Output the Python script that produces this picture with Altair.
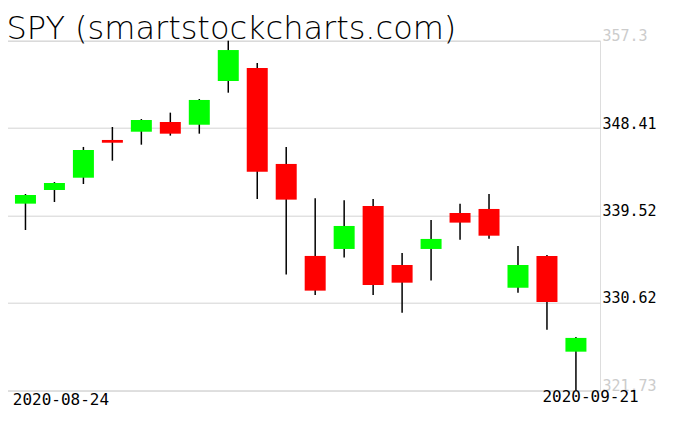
import altair as alt
import pandas as pd

TITLE = "SPY (smartstockcharts.com)"

dates = ["2020-08-24", "2020-08-25", "2020-08-26", "2020-08-27", "2020-08-28",
         "2020-08-31", "2020-09-01", "2020-09-02", "2020-09-03", "2020-09-04",
         "2020-09-08", "2020-09-09", "2020-09-10", "2020-09-11", "2020-09-14",
         "2020-09-15", "2020-09-16", "2020-09-17", "2020-09-18", "2020-09-21"]
opens = [340.72, 342.11, 343.36, 347.20, 348.04, 349.03, 348.75, 353.20, 354.52, 344.76,
         335.40, 336.11, 340.48, 334.48, 336.11, 339.77, 340.18, 332.17, 335.40, 325.66]
highs = [341.70, 342.92, 346.49, 348.52, 349.33, 349.98, 351.37, 357.30, 355.03, 346.49,
         341.27, 341.06, 341.20, 335.70, 339.06, 340.72, 341.70, 336.42, 335.50, 327.16]
lows = [338.04, 340.89, 342.72, 345.09, 346.72, 347.64, 347.84, 352.01, 341.20, 333.50,
        331.43, 335.23, 331.43, 329.63, 332.89, 337.06, 337.16, 331.66, 327.90, 321.73]
closes = [341.60, 342.82, 346.18, 346.92, 349.23, 347.84, 351.27, 356.35, 343.97, 341.13,
          331.87, 338.45, 332.45, 332.68, 337.13, 338.79, 337.46, 334.48, 330.72, 327.06]
y_ticks = [321.73, 330.62, 339.52, 348.41, 357.3]

df = pd.DataFrame({
    "idx": list(range(len(dates))),
    "date": dates,
    "open": opens,
    "high": highs,
    "low": lows,
    "close": closes,
})

W, H = 593.5, 349.6
ymin, ymax = min(lows), max(highs)

xs = alt.Scale(domain=[-0.482, len(dates) - 1 + 0.658], nice=False, zero=False)
ys = alt.Scale(domain=[ymin, ymax], nice=False, zero=False)

y_axis = alt.Axis(
    orient="right", values=y_ticks, format=".2~f", title=None,
    domain=False, ticks=False, grid=True, gridColor="#d3d3d3", gridWidth=1,
    labelPadding=2, labelFont="DejaVu Sans Mono", labelFontSize=15,
    labelBaseline="alphabetic", labelOverlap=False, labelFlush=False, labelBound=False,
    labelColor={"condition": {"test": "datum.value > 357 || datum.value < 322",
                              "value": "#cccccc"}, "value": "black"},
)

base = alt.Chart(df)

wicks = base.mark_rule(color="black", strokeWidth=1.5).encode(
    x=alt.X("idx:Q", scale=xs, axis=None),
    y=alt.Y("low:Q", scale=ys, axis=y_axis),
    y2="high:Q",
)

bodies = base.mark_bar(size=21).encode(
    x=alt.X("idx:Q", scale=xs, axis=None),
    y=alt.Y("open:Q", scale=ys, axis=y_axis),
    y2="close:Q",
    color=alt.condition("datum.close >= datum.open", alt.value("#00ff00"), alt.value("#ff0000")),
)

first_lbl = alt.Chart(pd.DataFrame({"idx": [0], "label": [dates[0]]})).mark_text(
    align="left", baseline="alphabetic", dx=-12.7, dy=14.7,
    font="DejaVu Sans Mono", fontSize=16, color="black",
).encode(x=alt.X("idx:Q", scale=xs, axis=None), y=alt.value(H), text="label:N")

last_lbl = alt.Chart(pd.DataFrame({"idx": [len(dates) - 1], "label": [dates[-1]]})).mark_text(
    align="right", baseline="alphabetic", dx=62.7, dy=11.4,
    font="DejaVu Sans Mono", fontSize=16, color="black",
).encode(x=alt.X("idx:Q", scale=xs, axis=None), y=alt.value(H), text="label:N")

title = alt.Chart(pd.DataFrame({"t": [TITLE]})).mark_text(
    align="left", baseline="alphabetic", font="DejaVu Sans", fontSize=32,
    fontWeight=200, color="black",
).encode(x=alt.value(0), y=alt.value(-1.7), text="t:N")

chart = alt.layer(wicks, bodies, first_lbl, last_lbl, title).properties(
    width=W, height=H,
    autosize=alt.AutoSizeParams(type="none"),
    padding={"left": -1.5, "top": 32.7, "right": 68, "bottom": 25},
).configure_view(stroke="transparent", strokeWidth=0, fill="white").configure_axis(
    domain=False, ticks=False
).configure(background="white")

chart.save("out.html", embed_options={"renderer": "svg", "actions": False})
